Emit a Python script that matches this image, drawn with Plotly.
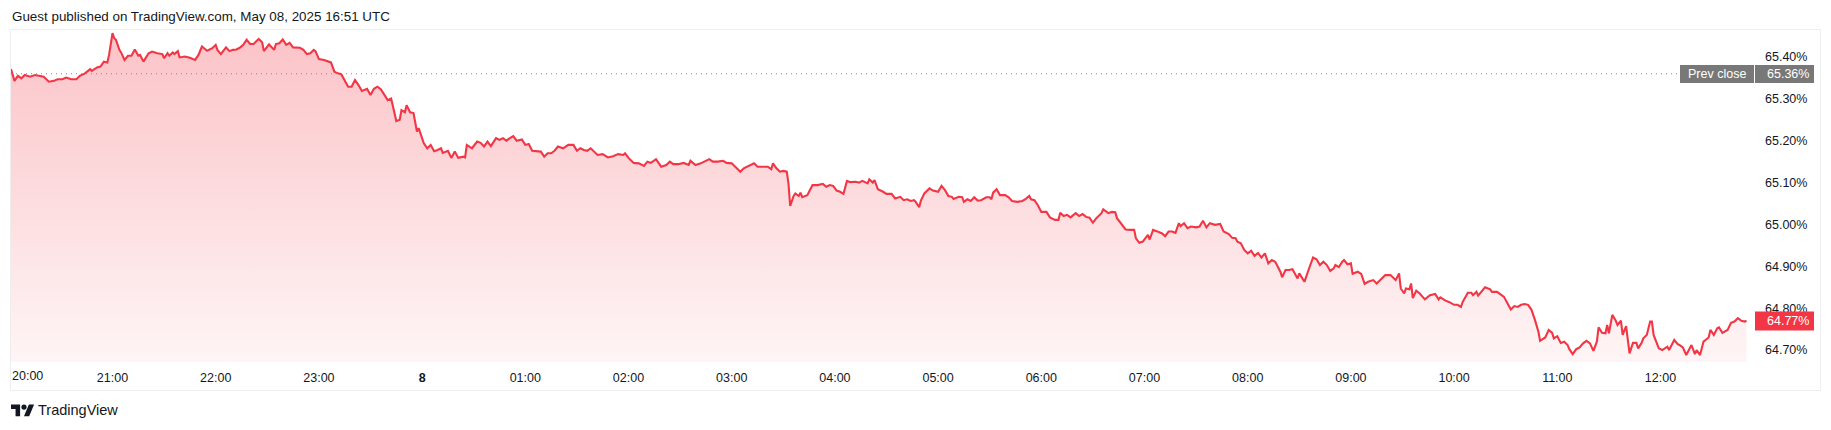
import pandas as pd
import plotly.graph_objects as go

# ---------------- data ----------------
SESSION_START = "2025-05-07 20:00"
MINUTES = [1, 3, 5, 7, 9, 12, 15, 18, 20, 23, 26, 28, 31, 33, 36, 39, 41, 44, 47, 48, 51, 53, 55, 57, 58, 60, 61, 62, 64, 65, 67, 69, 71, 73, 75, 76, 78, 81, 83, 86, 89, 90, 92, 93, 95, 96, 98, 99, 102, 105, 108, 110, 112, 115, 118, 120, 121, 123, 126, 128, 130, 132, 134, 136, 138, 140, 142, 145, 147, 148, 150, 151, 154, 155, 157, 159, 161, 163, 165, 167, 169, 171, 173, 175, 177, 178, 180, 183, 185, 187, 189, 191, 193, 195, 197, 199, 201, 203, 205, 208, 210, 212, 214, 216, 218, 220, 222, 223, 225, 227, 228, 230, 231, 233, 235, 237, 238, 241, 243, 245, 247, 249, 251, 252, 255, 257, 259, 261, 264, 265, 266, 269, 272, 274, 276, 278, 280, 283, 285, 287, 289, 291, 293, 295, 298, 300, 302, 304, 307, 309, 311, 313, 315, 317, 319, 322, 325, 328, 330, 332, 334, 336, 338, 341, 342, 345, 348, 351, 354, 357, 358, 360, 363, 366, 369, 371, 373, 376, 379, 382, 384, 386, 389, 392, 395, 396, 399, 402, 404, 407, 409, 412, 415, 417, 420, 422, 425, 427, 430, 433, 435, 438, 441, 443, 444, 446, 448, 450, 452, 453, 454, 456, 457, 459, 460, 461, 464, 465, 467, 470, 473, 475, 477, 479, 481, 483, 485, 487, 489, 492, 494, 496, 499, 500, 502, 503, 505, 508, 510, 513, 515, 518, 520, 522, 524, 526, 527, 529, 530, 532, 535, 537, 540, 542, 544, 546, 548, 549, 552, 554, 555, 557, 559, 561, 563, 565, 568, 570, 571, 572, 574, 576, 579, 581, 583, 586, 589, 591, 593, 594, 596, 598, 600, 603, 605, 608, 610, 611, 613, 615, 617, 620, 622, 624, 626, 628, 630, 632, 635, 636, 639, 641, 643, 644, 647, 649, 652, 654, 655, 657, 659, 662, 663, 665, 667, 670, 672, 674, 676, 678, 680, 681, 683, 685, 687, 690, 692, 694, 696, 698, 701, 704, 706, 709, 711, 713, 714, 716, 718, 720, 722, 724, 726, 728, 730, 732, 734, 736, 739, 740, 742, 744, 746, 749, 750, 753, 755, 758, 760, 762, 764, 766, 768, 770, 771, 773, 775, 776, 778, 780, 781, 784, 786, 788, 790, 793, 795, 798, 800, 803, 805, 806, 808, 809, 811, 812, 814, 815, 816, 818, 820, 823, 826, 829, 831, 832, 835, 837, 840, 842, 844, 845, 848, 850, 851, 853, 854, 857, 858, 861, 862, 865, 867, 869, 871, 873, 875, 877, 879, 881, 883, 885, 887, 889, 890, 893, 895, 897, 898, 900, 902, 904, 906, 907, 909, 911, 913, 915, 917, 919, 921, 923, 924, 926, 928, 929, 930, 932, 934, 935, 937, 938, 940, 942, 944, 946, 947, 949, 950, 952, 954, 955, 956, 959, 961, 964, 965, 968, 970, 971, 973, 975, 978, 980, 981, 983, 985, 988, 989, 991, 993, 994, 996, 999, 1001, 1003, 1005, 1007, 1009, 1010]
VALUES = [65.371, 65.343, 65.355, 65.349, 65.357, 65.353, 65.357, 65.355, 65.353, 65.341, 65.343, 65.347, 65.347, 65.351, 65.347, 65.347, 65.355, 65.361, 65.371, 65.367, 65.375, 65.377, 65.389, 65.387, 65.405, 65.457, 65.445, 65.441, 65.417, 65.411, 65.393, 65.403, 65.403, 65.418, 65.403, 65.405, 65.389, 65.409, 65.413, 65.409, 65.407, 65.397, 65.409, 65.403, 65.411, 65.407, 65.414, 65.399, 65.401, 65.398, 65.393, 65.405, 65.425, 65.415, 65.421, 65.429, 65.417, 65.407, 65.423, 65.414, 65.417, 65.418, 65.422, 65.429, 65.441, 65.431, 65.431, 65.443, 65.435, 65.414, 65.425, 65.430, 65.417, 65.431, 65.433, 65.442, 65.429, 65.434, 65.423, 65.423, 65.422, 65.417, 65.407, 65.409, 65.417, 65.414, 65.395, 65.393, 65.390, 65.387, 65.365, 65.361, 65.359, 65.345, 65.329, 65.329, 65.345, 65.333, 65.319, 65.324, 65.309, 65.324, 65.329, 65.323, 65.309, 65.297, 65.301, 65.281, 65.247, 65.250, 65.273, 65.268, 65.285, 65.268, 65.266, 65.222, 65.230, 65.194, 65.182, 65.190, 65.175, 65.178, 65.182, 65.171, 65.176, 65.159, 65.174, 65.159, 65.162, 65.160, 65.190, 65.182, 65.198, 65.195, 65.186, 65.198, 65.187, 65.206, 65.202, 65.206, 65.200, 65.206, 65.211, 65.200, 65.203, 65.190, 65.192, 65.176, 65.174, 65.174, 65.162, 65.170, 65.170, 65.176, 65.186, 65.182, 65.190, 65.190, 65.176, 65.182, 65.178, 65.176, 65.182, 65.171, 65.166, 65.168, 65.160, 65.163, 65.168, 65.166, 65.170, 65.159, 65.147, 65.146, 65.140, 65.150, 65.147, 65.156, 65.138, 65.142, 65.150, 65.144, 65.144, 65.147, 65.142, 65.152, 65.142, 65.146, 65.150, 65.156, 65.150, 65.150, 65.152, 65.147, 65.146, 65.138, 65.126, 65.134, 65.140, 65.146, 65.138, 65.138, 65.138, 65.132, 65.146, 65.134, 65.126, 65.128, 65.126, 65.098, 65.044, 65.068, 65.074, 65.068, 65.076, 65.065, 65.070, 65.078, 65.094, 65.094, 65.097, 65.090, 65.094, 65.092, 65.081, 65.078, 65.073, 65.104, 65.101, 65.102, 65.100, 65.104, 65.098, 65.108, 65.100, 65.106, 65.084, 65.078, 65.073, 65.073, 65.062, 65.066, 65.058, 65.060, 65.056, 65.058, 65.054, 65.041, 65.057, 65.074, 65.086, 65.081, 65.078, 65.092, 65.082, 65.068, 65.066, 65.061, 65.066, 65.065, 65.054, 65.060, 65.056, 65.065, 65.057, 65.058, 65.065, 65.065, 65.060, 65.076, 65.084, 65.070, 65.070, 65.065, 65.056, 65.054, 65.056, 65.061, 65.068, 65.060, 65.058, 65.046, 65.030, 65.030, 65.017, 65.011, 65.011, 65.028, 65.020, 65.023, 65.017, 65.027, 65.020, 65.025, 65.018, 65.016, 65.004, 65.015, 65.027, 65.036, 65.027, 65.030, 65.029, 65.015, 64.999, 64.988, 64.987, 64.987, 64.967, 64.956, 64.959, 64.975, 64.964, 64.987, 64.984, 64.979, 64.972, 64.983, 64.983, 64.980, 65.003, 64.996, 65.003, 64.991, 64.995, 64.993, 64.995, 65.009, 64.993, 65.003, 64.999, 65.001, 64.983, 64.977, 64.968, 64.967, 64.959, 64.955, 64.939, 64.931, 64.937, 64.925, 64.932, 64.921, 64.931, 64.907, 64.915, 64.911, 64.887, 64.874, 64.891, 64.891, 64.893, 64.871, 64.883, 64.863, 64.887, 64.921, 64.917, 64.903, 64.911, 64.903, 64.889, 64.895, 64.903, 64.898, 64.911, 64.915, 64.905, 64.907, 64.882, 64.887, 64.882, 64.858, 64.863, 64.867, 64.859, 64.871, 64.879, 64.879, 64.871, 64.867, 64.883, 64.847, 64.835, 64.847, 64.845, 64.859, 64.824, 64.842, 64.835, 64.821, 64.831, 64.834, 64.821, 64.826, 64.818, 64.815, 64.808, 64.808, 64.803, 64.815, 64.837, 64.837, 64.831, 64.839, 64.830, 64.845, 64.850, 64.845, 64.839, 64.839, 64.833, 64.827, 64.812, 64.797, 64.805, 64.803, 64.808, 64.810, 64.808, 64.796, 64.772, 64.744, 64.722, 64.730, 64.748, 64.741, 64.728, 64.733, 64.717, 64.720, 64.712, 64.702, 64.690, 64.702, 64.706, 64.716, 64.722, 64.716, 64.698, 64.720, 64.754, 64.741, 64.740, 64.760, 64.740, 64.784, 64.770, 64.760, 64.770, 64.736, 64.757, 64.692, 64.717, 64.717, 64.704, 64.717, 64.728, 64.736, 64.768, 64.768, 64.736, 64.704, 64.700, 64.708, 64.700, 64.724, 64.714, 64.712, 64.706, 64.688, 64.712, 64.690, 64.700, 64.688, 64.720, 64.730, 64.748, 64.736, 64.752, 64.754, 64.741, 64.748, 64.765, 64.768, 64.776, 64.770, 64.768, 64.770]
PREV_CLOSE = 65.36
LAST_VALUE = 64.77
Y_TICKS = [64.70, 64.80, 64.90, 65.00, 65.10, 65.20, 65.30, 65.40]
X_TICK_HOURS = [1, 2, 3, 4, 5, 6, 7, 8, 9, 10, 11, 12, 13, 14, 15, 16]
X_TICK_LABELS = ["21:00", "22:00", "23:00", "<b>8</b>", "01:00", "02:00", "03:00", "04:00",
                 "05:00", "06:00", "07:00", "08:00", "09:00", "10:00", "11:00", "12:00"]
FIRST_TICK_LABEL = "20:00"
TITLE = "Guest published on TradingView.com, May 08, 2025 16:51 UTC"
BRAND = "TradingView"

# ---------------- layout constants ----------------
BODY = 8                                    # default page margin of the html body
W, H = 1831 - 2 * BODY, 430 - 2 * BODY
PL, PR, PT, PB = 11, 1755, 30, 362          # plot-area box in page pixels
X_RANGE_MIN = (0.988, 1014.94)              # minutes after session start
Y_RANGE = (64.6714, 65.4645)
RED = "#F23645"
TXT = "#131722"
GREY = "#787878"
FONT = "Liberation Sans, Arial, sans-serif"
TICK_SIZE = 12.5

base = pd.Timestamp(SESSION_START)
times = [base + pd.Timedelta(minutes=m) for m in MINUTES]
tickvals = [base + pd.Timedelta(hours=h) for h in X_TICK_HOURS]


def px_x(p):
    return (p - PL) / (PR - PL)


def px_y(p):
    return (PB - p) / (PB - PT)


fig = go.Figure()
fig.add_trace(go.Scatter(
    x=times, y=VALUES, mode="lines",
    line=dict(color=RED, width=2.1),
    fill="tozeroy",
    fillgradient=dict(type="vertical", start=Y_RANGE[0], stop=Y_RANGE[1],
                      colorscale=[[0, "rgba(242,54,69,0.05)"], [1, "rgba(242,54,69,0.30)"]]),
    hoverinfo="skip", showlegend=False,
))

# TradingView logo (drawn in logo units, mapped to page pixels)
LOGO_X, LOGO_Y, LOGO_S = 11, 404.5, 0.65


def logo_pt(u, v):
    return px_x(LOGO_X + u * LOGO_S), px_y(LOGO_Y + (v - 4) * LOGO_S)


def logo_path(pts):
    return "M" + " L".join(f"{x:.5f},{y:.5f}" for x, y in (logo_pt(u, v) for u, v in pts)) + " Z"


cx0, cy0 = logo_pt(16, 4)
cx1, cy1 = logo_pt(24, 12)

shapes = [
    # outer frame
    dict(type="rect", xref="paper", yref="paper", x0=px_x(10.5), x1=px_x(1820.5),
         y0=px_y(390.5), y1=px_y(29.5), line=dict(color="#EEEEEE", width=1), layer="below"),
    # previous close dotted line
    dict(type="line", xref="paper", yref="y", x0=0, x1=px_x(1680), y0=PREV_CLOSE, y1=PREV_CLOSE,
         line=dict(color="#8A8A8A", width=1, dash="1px,4px")),
    # prev close label boxes
    dict(type="rect", xref="paper", yref="paper", x0=px_x(1680), x1=px_x(1754),
         y0=px_y(83), y1=px_y(65), fillcolor=GREY, line=dict(width=0)),
    dict(type="rect", xref="paper", yref="paper", x0=px_x(1755), x1=px_x(1814),
         y0=px_y(83), y1=px_y(65), fillcolor=GREY, line=dict(width=0)),
    # last value box
    dict(type="rect", xref="paper", yref="paper", x0=px_x(1755), x1=px_x(1814),
         y0=px_y(330.5), y1=px_y(311.5), fillcolor=RED, line=dict(width=0)),
    # logo
    dict(type="path", xref="paper", yref="paper", fillcolor=TXT, line=dict(width=0),
         path=logo_path([(14, 22), (7, 22), (7, 11), (0, 11), (0, 4), (14, 4)])),
    dict(type="path", xref="paper", yref="paper", fillcolor=TXT, line=dict(width=0),
         path=logo_path([(28, 22), (20, 22), (27.5, 4), (35.5, 4)])),
    dict(type="circle", xref="paper", yref="paper", x0=cx0, x1=cx1, y0=cy1, y1=cy0,
         fillcolor=TXT, line=dict(width=0)),
]

annotations = [
    dict(text=TITLE, xref="paper", yref="paper", x=px_x(10), y=px_y(16.5), xanchor="left",
         yanchor="middle", showarrow=False, font=dict(family=FONT, size=13.4, color=TXT)),
    dict(text=FIRST_TICK_LABEL, xref="paper", yref="paper", x=px_x(10), y=px_y(376),
         xanchor="left", yanchor="middle", showarrow=False, font=dict(family=FONT, size=TICK_SIZE, color=TXT)),
    dict(text="Prev close", xref="paper", yref="y", x=px_x(1717), y=PREV_CLOSE, xanchor="center",
         yanchor="middle", showarrow=False, font=dict(family=FONT, size=TICK_SIZE, color="white")),
    dict(text=f"{PREV_CLOSE:.2f}%", xref="paper", yref="y", x=px_x(1765), y=PREV_CLOSE, xanchor="left",
         yanchor="middle", showarrow=False, font=dict(family=FONT, size=TICK_SIZE, color="white")),
    dict(text=f"{LAST_VALUE:.2f}%", xref="paper", yref="y", x=px_x(1765), y=LAST_VALUE, xanchor="left",
         yanchor="middle", showarrow=False, font=dict(family=FONT, size=TICK_SIZE, color="white")),
    dict(text=BRAND, xref="paper", yref="paper", x=px_x(36), y=px_y(410), xanchor="left",
         yanchor="middle", showarrow=False, font=dict(family=FONT, size=14.5, color=TXT)),
]

fig.update_layout(
    width=W, height=H,
    margin=dict(l=PL - BODY, r=W - (PR - BODY), t=PT - BODY, b=H - (PB - BODY), pad=0),
    paper_bgcolor="white", plot_bgcolor="white",
    shapes=shapes, annotations=annotations,
    xaxis=dict(
        type="date",
        range=[base + pd.Timedelta(minutes=X_RANGE_MIN[0]), base + pd.Timedelta(minutes=X_RANGE_MIN[1])],
        tickvals=tickvals, ticktext=X_TICK_LABELS,
        showgrid=False, zeroline=False, showline=False, ticks="",
        tickfont=dict(family=FONT, size=TICK_SIZE, color=TXT), ticklabelstandoff=6,
    ),
    yaxis=dict(
        range=list(Y_RANGE), side="right",
        tickvals=Y_TICKS, ticktext=[f"{v:.2f}%" for v in Y_TICKS],
        showgrid=False, zeroline=False, showline=False, ticks="",
        tickfont=dict(family=FONT, size=TICK_SIZE, color=TXT), ticklabelstandoff=9,
    ),
    showlegend=False,
)

fig.write_html("out.html", config={"displayModeBar": False})
